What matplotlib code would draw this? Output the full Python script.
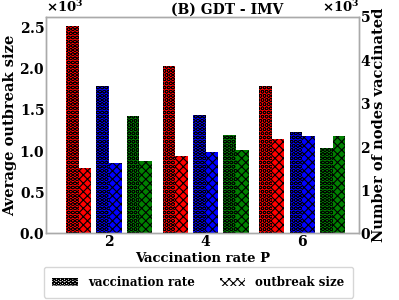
import matplotlib
matplotlib.use("Agg")
import matplotlib.pyplot as plt
import numpy as np
from matplotlib.patches import Patch

P = [2, 4, 6]
methods = ["red", "blue", "green"]
colors = ["red", "blue", "green"]
# number of nodes vaccinated (right axis)
vaccinated = {
    "red":   [4780, 3850, 3390],
    "blue":  [3390, 2730, 2340],
    "green": [2700, 2270, 1970],
}
# average outbreak size (left axis)
outbreak = {
    "red":   [786, 935, 1140],
    "blue":  [858, 987, 1180],
    "green": [874, 1010, 1180],
}

plt.rcParams["font.family"] = "DejaVu Serif"
plt.rcParams["font.weight"] = "bold"
plt.rcParams["hatch.color"] = "black"

HV, HO = "OOOO", "xxxx"
LWV, LWO = 0.5, 0.8

fig = plt.figure(figsize=(3.99, 3.0), dpi=100)
ax = fig.add_axes([0.116, 0.222, 0.784, 0.723])
ax2 = ax.twinx()

w = 0.26
offsets = [-0.63, 0.0, 0.63]
x = np.array(P, dtype=float)
for m, c, off in zip(methods, colors, offsets):
    plt.rcParams["hatch.linewidth"] = LWV
    ax2.bar(x + off - w / 2, vaccinated[m], width=w, color=c, hatch=HV, linewidth=0)
    plt.rcParams["hatch.linewidth"] = LWO
    ax.bar(x + off + w / 2, outbreak[m], width=w, color=c, hatch=HO, linewidth=0)

ax.set_xlim(0.70, 7.18)
ax.set_ylim(0, 2625)
ax2.set_ylim(0, 5000)
ax.set_yticks([0, 500, 1000, 1500, 2000, 2500])
ax2.set_yticks([0, 1000, 2000, 3000, 4000, 5000])
ax.set_xticks(P)
for a in (ax, ax2):
    a.ticklabel_format(style="sci", axis="y", scilimits=(3, 3), useMathText=True)
    a.yaxis.get_offset_text().set_fontsize(9.5)
    a.yaxis.get_offset_text().set_fontweight("bold")
    a.tick_params(labelsize=10, length=0, pad=1)
    for s in a.spines.values():
        s.set_color("#aaaaaa")
        s.set_linewidth(1.0)

ax.set_ylabel("Average outbreak size", fontsize=10.5, fontweight="bold", labelpad=2)
ax2.set_ylabel("Number of nodes vaccinated", fontsize=10.5, fontweight="bold", labelpad=0)
ax.set_xlabel("Vaccination rate P", fontsize=9.5, fontweight="bold", labelpad=2)
fig.text(0.569, 0.944, "(B) GDT - IMV", ha="center", va="bottom", fontsize=10, fontweight="bold")

plt.rcParams["hatch.linewidth"] = LWV
h1 = Patch(facecolor="white", hatch=HV, edgecolor="black", linewidth=0, label="vaccination rate")
plt.rcParams["hatch.linewidth"] = LWO
h2 = Patch(facecolor="white", hatch=HO, edgecolor="black", linewidth=0, label="outbreak size")
leg = fig.legend(handles=[h1, h2], loc="lower center", bbox_to_anchor=(0.497, 0.0), ncol=2,
                 fontsize=8.5, frameon=True, handlelength=2.2, handletextpad=0.8,
                 columnspacing=2.1, borderpad=0.75, borderaxespad=0.2)
for t in leg.get_texts():
    t.set_fontweight("bold")

fig.savefig("out.png", dpi=100)
